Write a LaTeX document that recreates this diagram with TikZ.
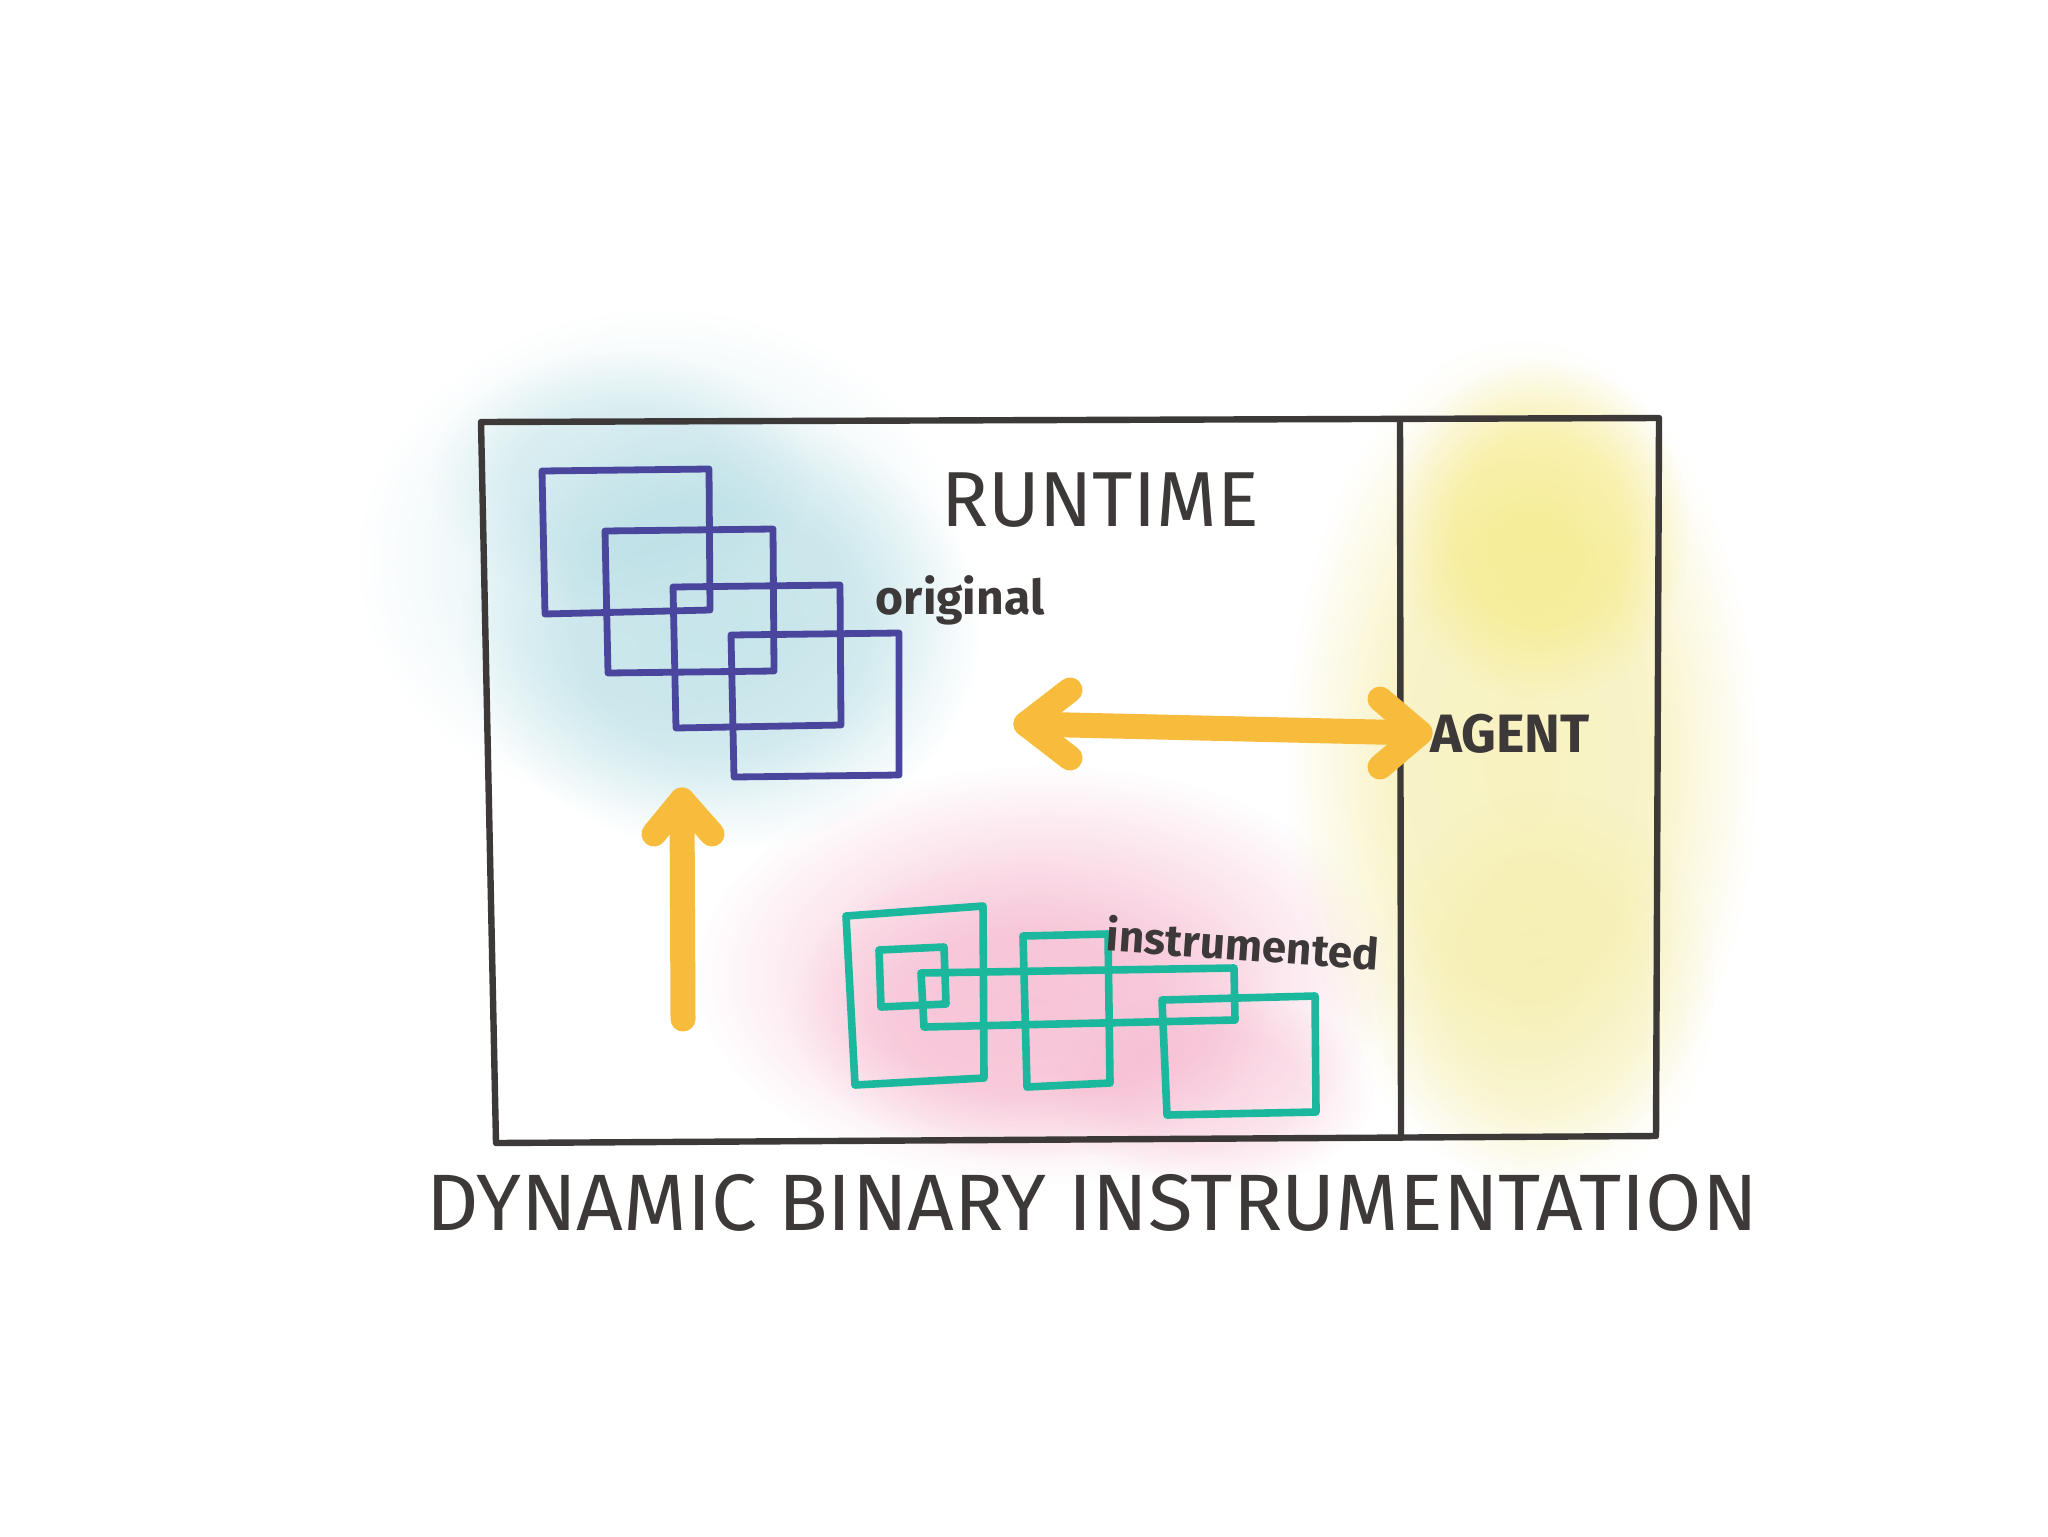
\documentclass[tikz,border=0pt]{standalone}
\usepackage{fontspec}
\setmainfont{Fira Sans}
\usetikzlibrary{fadings,calc}
\definecolor{ink}{HTML}{3D3939}
\definecolor{purp}{HTML}{4A469E}
\definecolor{teal2}{HTML}{1BB89E}
\definecolor{orng}{HTML}{F7BC3C}
\definecolor{wblue}{HTML}{A9D8E0}
\definecolor{wpink}{HTML}{F5AEC8}
\definecolor{wyel}{HTML}{F4E55E}
\definecolor{wyelpale}{HTML}{F2E88C}
\pgfdeclareradialshading{blobshade}{\pgfpointorigin}{color(0bp)=(white); color(14bp)=(white!85!black); color(25bp)=(black); color(50bp)=(black)}
\pgfdeclarefading{blob}{\pgfuseshading{blobshade}}
\begin{document}
\begin{tikzpicture}[x=0.5pt,y=-0.5pt,
  frame/.style={draw=ink, line width=3.2pt, line join=round, line cap=round},
  origbox/.style={draw=purp, line width=3.4pt, line join=round, line cap=round},
  instbox/.style={draw=teal2, line width=3.8pt, line join=round, line cap=round},
  yarrow/.style={draw=orng, line width=12.5pt, line cap=round, line join=round},
  wash/.style={path fading=blob, fit fading=true},
  lbl/.style={text=ink, inner sep=0pt}]

\useasboundingbox[fill=white] (0,0) rectangle (2048,1536);

% --- washes ---
\fill[wblue, wash, opacity=0.25] (660,560) ellipse [x radius=300, y radius=250];
\fill[wblue, wash, opacity=0.55] (720,630) ellipse [x radius=260, y radius=220];
\fill[wblue, wash, opacity=0.35] (620,480) ellipse [x radius=190, y radius=130];
\fill[wpink, wash, opacity=0.45] (1045,975) ellipse [x radius=350, y radius=210];
\fill[wpink, wash, opacity=0.5] (1030,1010) ellipse [x radius=240, y radius=150];
\fill[wpink, wash, opacity=0.35] (1215,1090) ellipse [x radius=160, y radius=100];
\fill[wyelpale, wash, opacity=0.55] (1522,760) ellipse [x radius=235, y radius=420];
\fill[wyel, wash, opacity=0.45] (1540,530) ellipse [x radius=150, y radius=170];
\fill[wyelpale, wash, opacity=0.3] (1545,990) ellipse [x radius=170, y radius=200];

% --- frame ---
\coordinate (tl) at (481,422);
\coordinate (tr) at (1659,418);
\coordinate (br) at (1656,1136);
\coordinate (bl) at (496,1143);
\coordinate (dt) at (1400,419);
\coordinate (db) at (1401,1138);
\draw[frame] (tl) -- (tr) -- (br) -- (bl) -- cycle;
\draw[frame] (dt) -- (db);

% --- original blocks ---
\draw[origbox] (542,471) -- (709,469) -- (710,610) -- (545,614) -- cycle;
\draw[origbox] (605,531) -- (773,529) -- (774,671) -- (608,673) -- cycle;
\draw[origbox] (673,587) -- (840,585) -- (841,725) -- (676,728) -- cycle;
\draw[origbox] (731,635) -- (899,633) -- (899,775) -- (734,777) -- cycle;

% --- instrumented blocks ---
\draw[instbox] (846,916) -- (983,906) -- (984,1078) -- (855,1085) -- cycle;
\draw[instbox] (879,950) -- (944,947) -- (946,1004) -- (881,1007) -- cycle;
\draw[instbox] (921,973) -- (1234,968) -- (1235,1020) -- (924,1027) -- cycle;
\draw[instbox] (1023,936) -- (1108,934) -- (1110,1083) -- (1027,1087) -- cycle;
\draw[instbox] (1162,1000) -- (1315,996) -- (1316,1112) -- (1167,1115) -- cycle;

% --- labels ---
\node[lbl, font=\fontsize{39}{39}\selectfont] (runtime) at (1100,500) {RUNTIME};
\node[lbl, font=\fontsize{24}{24}\selectfont\bfseries] (orig) at (960,600) {original};
\node[lbl, font=\fontsize{22}{22}\selectfont\bfseries, rotate=-4] (inst) at (1243,943) {instrumented};
\node[lbl, font=\fontsize{27}{27}\selectfont\bfseries] (agent) at (1510,734) {AGENT};
\node[lbl, font=\fontsize{40}{40}\selectfont, xscale=1.02] (title) at (1092,1203) {DYNAMIC BINARY INSTRUMENTATION};

% --- arrows ---
\coordinate (la) at (1026,724);
\coordinate (ra) at (1420,733);
\draw[yarrow] (la) -- (ra);
\draw[yarrow] ($(la)+(44,-34)$) -- (la) -- ($(la)+(44,34)$);
\draw[yarrow] ($(ra)+(-40,-34)$) -- (ra) -- ($(ra)+(-40,34)$);

\coordinate (ut) at (682,800);
\coordinate (ub) at (683,1019);
\draw[yarrow] (ub) -- (ut);
\draw[yarrow] ($(ut)+(-28,34)$) -- (ut) -- ($(ut)+(30,34)$);
\end{tikzpicture}
\end{document}
